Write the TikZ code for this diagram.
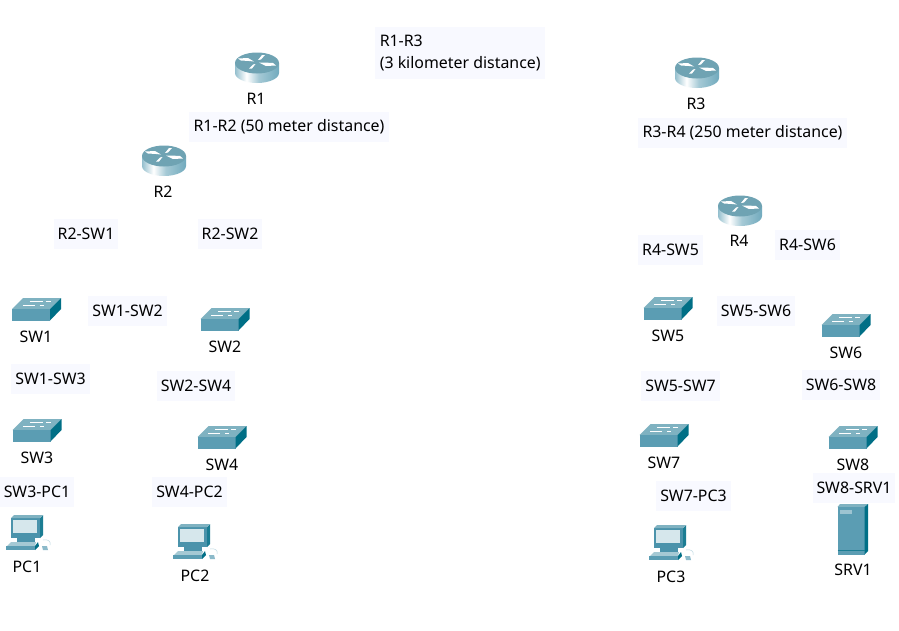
\documentclass[tikz,border=0pt]{standalone}
\usepackage{fontspec}
\setmainfont{Noto Sans}
\definecolor{lblbg}{HTML}{F8F9FF}
\definecolor{topc}{HTML}{6FA3B3}
\definecolor{darkc}{HTML}{006F86}
\definecolor{frontc}{HTML}{5B9DB3}
\definecolor{swtop}{HTML}{7FB2C1}
\definecolor{bezel}{HTML}{4B93AB}
\pgfdeclarehorizontalshading{routerbody}{100bp}{
 color(0bp)=(darkc!70!white); color(18bp)=(frontc); color(38bp)=(white); color(52bp)=(frontc!55!white); color(85bp)=(frontc); color(100bp)=(darkc!75!white)}
\tikzset{
 x=1pt,y=-1pt,
 lbl/.style={fill=lblbg,inner sep=0pt,font=\fontsize{15.9}{22}\selectfont,anchor=center,align=left},
 iconcap/.style={inner sep=0pt,font=\fontsize{15.9}{22}\selectfont,anchor=center},
 routerpic/.pic={
  \shade[shading=routerbody] (-22,-5) -- (-22,5) arc[start angle=180,end angle=0,x radius=22,y radius=10] -- (22,-5) -- cycle;
  \fill[topc] (0,-5) ellipse[x radius=22,y radius=10.5];
  \fill[white] (-19,-9.5) -- (-9,-10) -- (-3,-6.5) -- (-8,-7) -- (-16,-7.5) -- cycle;
  \fill[white] (19,-2.5) -- (9,-2) -- (2,-5.5) -- (7,-5.5) -- (16,-5) -- cycle;
  \fill[white] (8,-13) -- (5,-13) -- (1,-8) -- (4,-8.5) -- cycle;
  \fill[white] (-8,0.5) -- (-5,0.5) -- (-1.5,-4) -- (-4,-3.5) -- cycle;
 },
 switchpic/.pic={
  \fill[swtop] (-24.5,0) -- (-13.5,-11) -- (24.5,-11) -- (13.5,0) -- cycle;
  \fill[frontc] (-24.5,0) rectangle (13.5,11.5);
  \fill[darkc] (13.5,0) -- (24.5,-11) -- (24.5,0) -- (13.5,11.5) -- cycle;
  \draw[white,line width=.8pt] (-14,-3.5) -- (-2,-3.5) (3,-3.5) -- (7,-3.5) (-7,-8) -- (6,-8) (9,-8) -- (14,-8);
 },
 pcpic/.pic={
  \fill[bezel] (-15,-18) rectangle (14,2);
  \fill[darkc!70!frontc] (14,-18) -- (17,-21) -- (17,-1) -- (14,2) -- cycle;
  \fill[swtop] (-15,-18) -- (-12,-21) -- (17,-21) -- (14,-18) -- cycle;
  \fill[white!75!frontc] (-13,-16) rectangle (11,-3);
  \fill[bezel] (-9,2) rectangle (9,6);
  \fill[swtop!70!white] (-15,6) -- (10,6) -- (9,10) -- (-19,10) -- cycle;
  \fill[frontc] (-20,10) rectangle (9,14);
  \fill[darkc] (9,10) -- (12,6) -- (13,10) -- (9,14) -- cycle;
  \draw[frontc!40!white,line width=.5pt] (17,4) .. controls (22,3) and (25,5) .. (24,9);
  \fill[frontc!70!white] (16,10) -- (21,10) -- (22,14) -- (17,14) -- cycle;
 },
 serverpic/.pic={
  \fill[swtop] (-15.5,-22) -- (-13,-25) -- (15,-25) -- (11.5,-22) -- cycle;
  \fill[frontc] (-15.5,-22) rectangle (11.5,25.5);
  \fill[darkc] (11.5,-22) -- (15,-25) -- (15,22) -- (11.5,25.5) -- cycle;
  \fill[white!40!frontc] (-13,-19) rectangle (-1,-15);
  \draw[darkc!70!frontc,line width=.6pt] (-15.5,21.5) -- (11.5,21.5);
 },
}
\begin{document}
\begin{tikzpicture}
\useasboundingbox (0,0) rectangle (899,630);
\fill[white] (0,0) rectangle (899,630);
% labels on connections
\foreach \nm/\xa/\ya/\xb/\yb/\txt in {
 a/189/112/389/142/R1-R2 (50 meter distance),
 b/638/118/847/148/R3-R4 (250 meter distance),
 c/54/219/118/249/R2-SW1,
 d/198/219/262/249/R2-SW2,
 e/638/235/703/265/R4-SW5,
 f/775/230/840/260/R4-SW6,
 g/88/296/167/326/SW1-SW2,
 h/717/296/795/326/SW5-SW6,
 i/11/364/90/394/SW1-SW3,
 j/157/371/235/401/SW2-SW4,
 k/641/371/720/401/SW5-SW7,
 l/802/370/880/400/SW6-SW8,
 m/0/477/74/507/SW3-PC1,
 n/152/477/227/507/SW4-PC2,
 o/656/481/731/511/SW7-PC3,
 p/813/473/895/503/SW8-SRV1}{
 \pgfmathsetmacro{\boxw}{\xb-\xa}\pgfmathsetmacro{\boxh}{\yb-\ya}
 \node[lbl,minimum width=\boxw pt,minimum height=\boxh pt] (lb\nm) at ({(\xa+\xb)/2},{(\ya+\yb)/2}) {\txt};
}
\node[lbl,minimum width=170pt,minimum height=52pt,inner xsep=4.5pt,anchor=west] (lbq) at (375,53) {R1-R3\\(3 kilometer distance)\hspace{3pt}};
% routers
\foreach \nm/\xa/\ya/\lx/\ly in {R1/257/68/256/99,R2/164/161/163/192,R3/697/73/696/104,R4/740/211/739/241}{
 \path (\xa,\ya) pic {routerpic};
 \node[iconcap] (\nm) at (\lx,\ly) {\nm};
}
% switches
\foreach \nm/\xa/\ya/\lx/\ly in {SW1/36.5/309/36/337,SW2/225/319/225/347,SW3/37/430/37/458,SW4/222/437/222/465,SW5/668/308/668/336,SW6/846/325/846/353,SW7/664/435/664/463,SW8/853/437/853/465}{
 \path (\xa,\ya) pic {switchpic};
 \node[iconcap] (\nm) at (\lx,\ly) {\nm};
}
% PCs
\foreach \nm/\xa/\ya/\lx/\ly in {PC1/26/536/27/567,PC2/193/545/195/576,PC3/669/546/671/577}{
 \path (\xa,\ya) pic {pcpic};
 \node[iconcap] (\nm) at (\lx,\ly) {\nm};
}
\path (853,529) pic {serverpic};
\node[iconcap] (SRV1) at (853,570) {SRV1};
\end{tikzpicture}
\end{document}
